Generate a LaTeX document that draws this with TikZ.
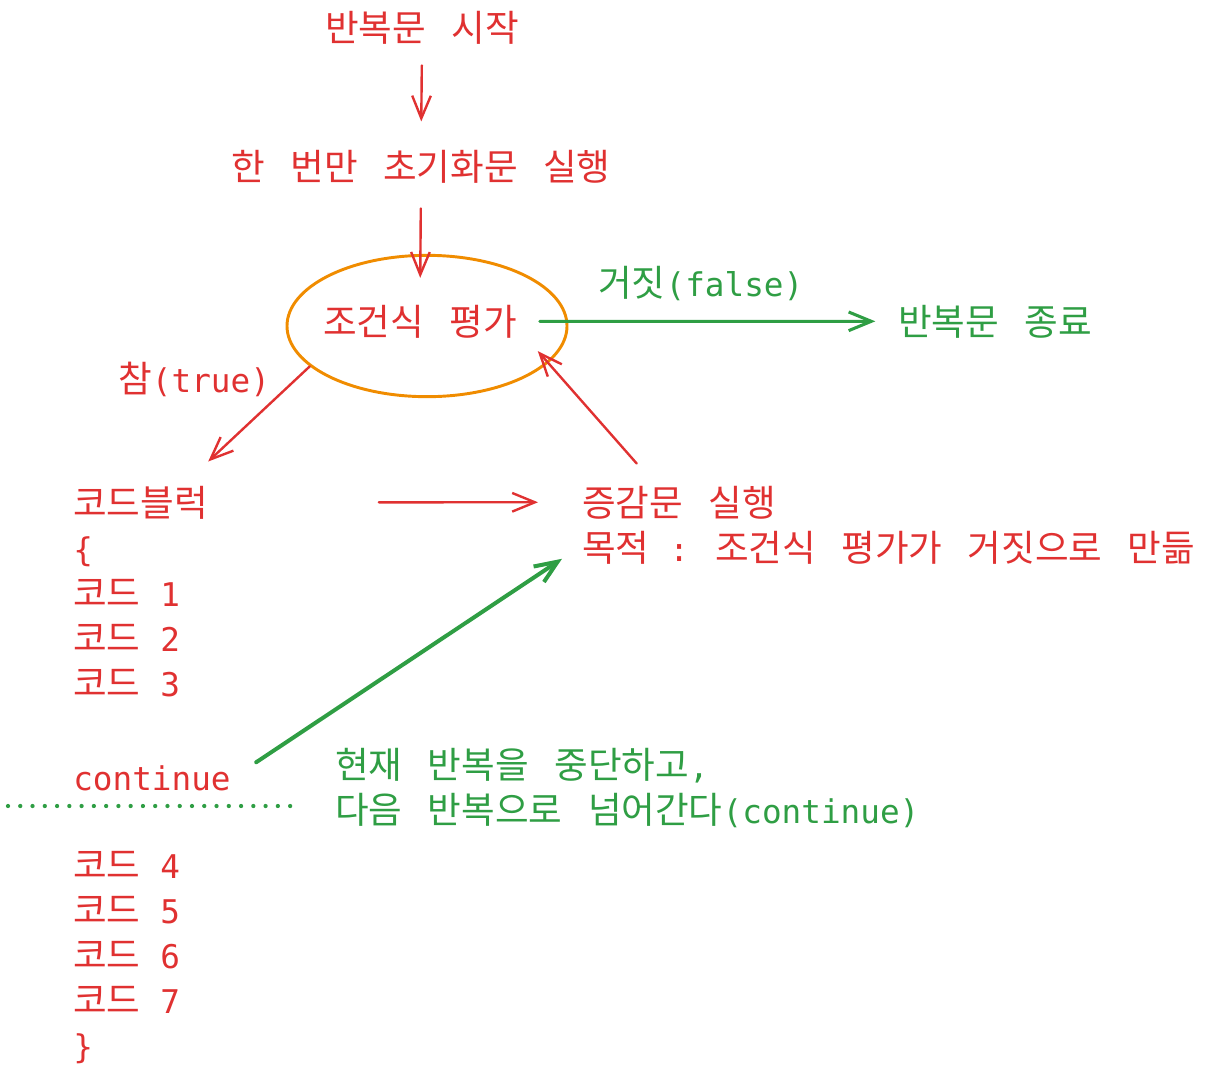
\documentclass[tikz,border=0pt]{standalone}
\usepackage{fontspec}
\setmainfont{DejaVu Sans Mono}
\newfontfamily\kr[Scale=1.12,WordSpace=3.1]{Noto Sans CJK KR}
\usetikzlibrary{arrows.meta, shapes.geometric}
\definecolor{loopred}{HTML}{E03131}
\definecolor{loopgreen}{HTML}{2F9E44}
\definecolor{looporange}{HTML}{F08C00}

\begin{document}
\begin{tikzpicture}[x=0.75pt, y=-0.75pt, line cap=round, line join=round,
	font=\fontsize{24.5}{33.75}\selectfont,
	>={Straight Barb[length=17pt, width=14pt]},
	redtxt/.style={text=loopred, inner sep=0pt},
	greentxt/.style={text=loopgreen, inner sep=0pt},
	redarrow/.style={->, draw=loopred, line width=1.8pt},
	greenarrow/.style={->, draw=loopgreen, line width=2.3pt}]
\useasboundingbox (0,0) rectangle (1212,1082);
%========================
% Top: start, init, condition
%========================
\node[redtxt, anchor=base] (start) at (422,41) {\kr 반복문 시작};
\node[redtxt, anchor=base] (init) at (421,180) {\kr 한 번만 초기화문 실행};
\node[draw=looporange, line width=2.2pt, ellipse, minimum width=210pt, minimum height=106pt] (ring) at (427,326) {};
\node[redtxt, anchor=base] (cond) at (420,335) {\kr 조건식 평가};
\node[greentxt, anchor=base west] (done) at (898,335) {\kr 반복문 종료};
\node[greentxt, anchor=base west] (false) at (598,296) {{\kr 거짓}(false)};
\node[redtxt, anchor=base west] (true) at (118,392) {{\kr 참}(true)};
% arrows
\draw[redarrow, shorten <=16pt, shorten >=21pt] (start.south) -- (init.north);
\draw[redarrow, shorten <=19pt, shorten >=20pt] (init.south) -- (cond.north);
\draw[greenarrow, shorten <=17pt, shorten >=17pt] (cond.east) -- (done.west);

%========================
% Left: code block
%========================
\node[redtxt, anchor=base west] (head) at (73,516) {\kr 코드블럭};
\node[redtxt, anchor=base west] (open) at (73,561) {\{};
\foreach \n/\y in {1/606, 2/651, 3/696, 4/878, 5/923, 6/968, 7/1013}
	\node[redtxt, anchor=base west] (code\n) at (73,\y) {{\kr 코드} \n};
\node[redtxt, anchor=base west] (cont) at (73,790) {continue};
\node[redtxt, anchor=base west] (close) at (73,1058) {\}};
% continue line
\draw[loopgreen, line width=3.2pt, dash pattern=on 0pt off 9.2pt] (8,806) -- (300,806);

%========================
% Right: increment
%========================
\node[redtxt, anchor=base west] (incr) at (582,516) {\kr 증감문 실행};
\node[redtxt, anchor=base west] (goal) at (582,561) {{\kr 목적} : {\kr 조건식 평가가 거짓으로 만듦}};
\node[greentxt, anchor=base west] (noteA) at (335,778) {{\kr 현재 반복을 중단하고},};
\node[greentxt, anchor=base west] (noteB) at (335,823) {{\kr 다음 반복으로 넘어간다}(continue)};
% arrows
\draw[redarrow] (ring.199) -- ([yshift=18pt]head.north east);
\draw[redarrow, shorten <=128pt, shorten >=33pt] (head.east) -- (incr.west);
\draw[redarrow, shorten >=-12pt] ([xshift=41pt, yshift=16.5pt]incr.north west) -- (ring.-17);
\draw[greenarrow, line width=3pt] ([xshift=19pt, yshift=2pt]cont.north east) -- ([xshift=-15pt, yshift=4pt]goal.south west);
\end{tikzpicture}
\end{document}
